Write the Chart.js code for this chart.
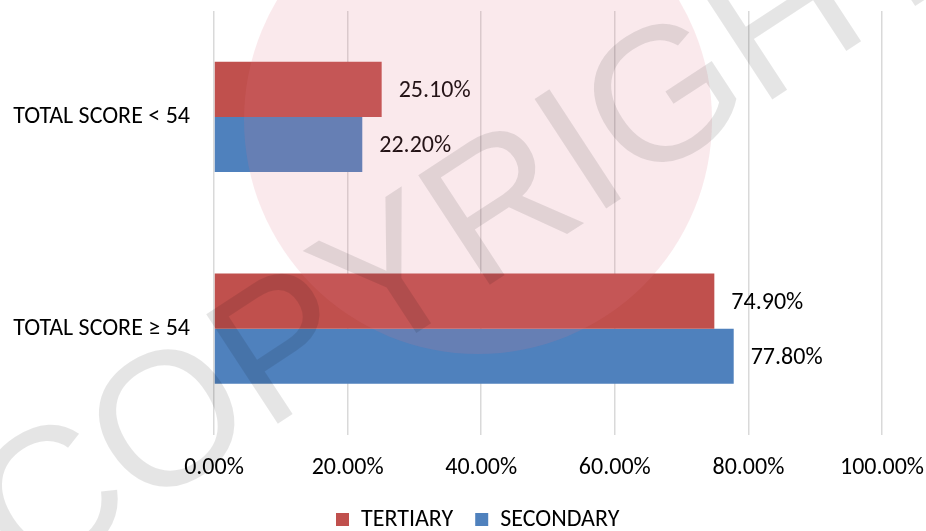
<!DOCTYPE html>
<html>
<head>
<meta charset="utf-8">
<script src="https://cdn.jsdelivr.net/npm/chart.js@4.4.1/dist/chart.umd.min.js"></script>
<style>
html,body{margin:0;padding:0;background:#fff;}
#wrap{width:926px;height:531px;position:relative;}
</style>
</head>
<body>
<div id="wrap"><canvas id="c" width="926" height="531"></canvas></div>
<script>
const categories = ["TOTAL SCORE < 54", "TOTAL SCORE \u2265 54"];
const tertiary = [25.1, 74.9];
const secondary = [22.2, 77.8];
const seriesNames = ["TERTIARY", "SECONDARY"];
const xTicks = [0, 20, 40, 60, 80, 100];

const FONT = "Carlito, Lato, 'Open Sans', sans-serif";
const LEGEND_FONT = 24;
const LEGEND_PAD = 22;
const LEGEND_CENTER_Y = 519.5;
const LEGEND_START_X = 336;

const watermark = {
  id: 'watermark',
  afterDraw(chart) {
    const ctx = chart.ctx;
    ctx.save();
    ctx.fillStyle = 'rgba(225,120,135,0.16)';
    ctx.beginPath();
    ctx.arc(478, 120, 234, 0, Math.PI * 2);
    ctx.fill();
    ctx.translate(470, 235);
    ctx.rotate(-0.58);
    ctx.font = "190px 'Liberation Sans', sans-serif";
    ctx.textAlign = 'center';
    ctx.textBaseline = 'middle';
    ctx.fillStyle = 'rgba(0,0,0,0.10)';
    ctx.fillText('COPYRIGHT', 0, 0);
    ctx.restore();
  }
};

const valueLabels = {
  id: 'valueLabels',
  afterDatasetsDraw(chart) {
    const ctx = chart.ctx;
    ctx.save();
    ctx.font = "24px " + FONT;
    ctx.fillStyle = '#000';
    ctx.textBaseline = 'middle';
    ctx.textAlign = 'left';
    chart.data.datasets.forEach((ds, di) => {
      chart.getDatasetMeta(di).data.forEach((bar, i) => {
        ctx.fillText(ds.data[i].toFixed(2) + '%', bar.x + 17, bar.y + 2);
      });
    });
    ctx.restore();
  }
};

const legendPlace = {
  id: 'legendPlace',
  beforeLayout(chart) {
    const lg = chart.legend;
    if (lg && !lg.__wrapped) {
      const orig = lg.fit;
      lg.fit = function () { orig.call(this); this.height = 30.5; };
      lg.__wrapped = true;
    }
  },
  afterLayout(chart) {
    const lg = chart.legend;
    if (!lg) return;
    lg.top = LEGEND_CENTER_Y - LEGEND_PAD - LEGEND_FONT / 2;
    lg.bottom = chart.height;
    lg.height = lg.bottom - lg.top;
    const rowW = lg.lineWidths ? lg.lineWidths[0] : 0;
    const curStart = (lg.left + LEGEND_PAD + lg.right - rowW) / 2;
    const dx = LEGEND_START_X - curStart;
    lg.left += dx; lg.right += dx;
  }
};

new Chart(document.getElementById('c'), {
  type: 'bar',
  data: {
    labels: categories,
    datasets: [
      { label: seriesNames[0], data: tertiary, backgroundColor: '#c0504d', categoryPercentage: 0.52, barPercentage: 1.0 },
      { label: seriesNames[1], data: secondary, backgroundColor: '#4f81bd', categoryPercentage: 0.52, barPercentage: 1.0 }
    ]
  },
  options: {
    indexAxis: 'y',
    responsive: false,
    animation: false,
    layout: { padding: { top: 11, right: 44, left: 0, bottom: 0 } },
    plugins: {
      legend: {
        position: 'bottom',
        labels: {
          font: { family: FONT, size: LEGEND_FONT },
          color: '#000',
          boxWidth: 13,
          boxHeight: 13,
          padding: LEGEND_PAD
        }
      },
      tooltip: { enabled: false }
    },
    scales: {
      x: {
        min: 0, max: 100,
        afterBuildTicks(scale) { scale.ticks = xTicks.map(v => ({ value: v })); },
        ticks: {
          font: { family: FONT, size: 24 },
          color: '#000',
          padding: 18.6,
          callback: v => v.toFixed(2) + '%'
        },
        grid: { color: '#d9d9d9', lineWidth: 1.5, drawTicks: false },
        border: { display: false },
        afterFit(scale) { scale.paddingLeft = 0; scale.paddingRight = 0; }
      },
      y: {
        ticks: { font: { family: FONT, size: 24 }, color: '#000', padding: 24 },
        grid: { display: false, drawTicks: false },
        border: { display: false },
        afterFit(scale) { scale.width = 214; scale.paddingTop = 0; scale.paddingBottom = 0; }
      }
    }
  },
  plugins: [watermark, valueLabels, legendPlace]
});
</script>
</body>
</html>
